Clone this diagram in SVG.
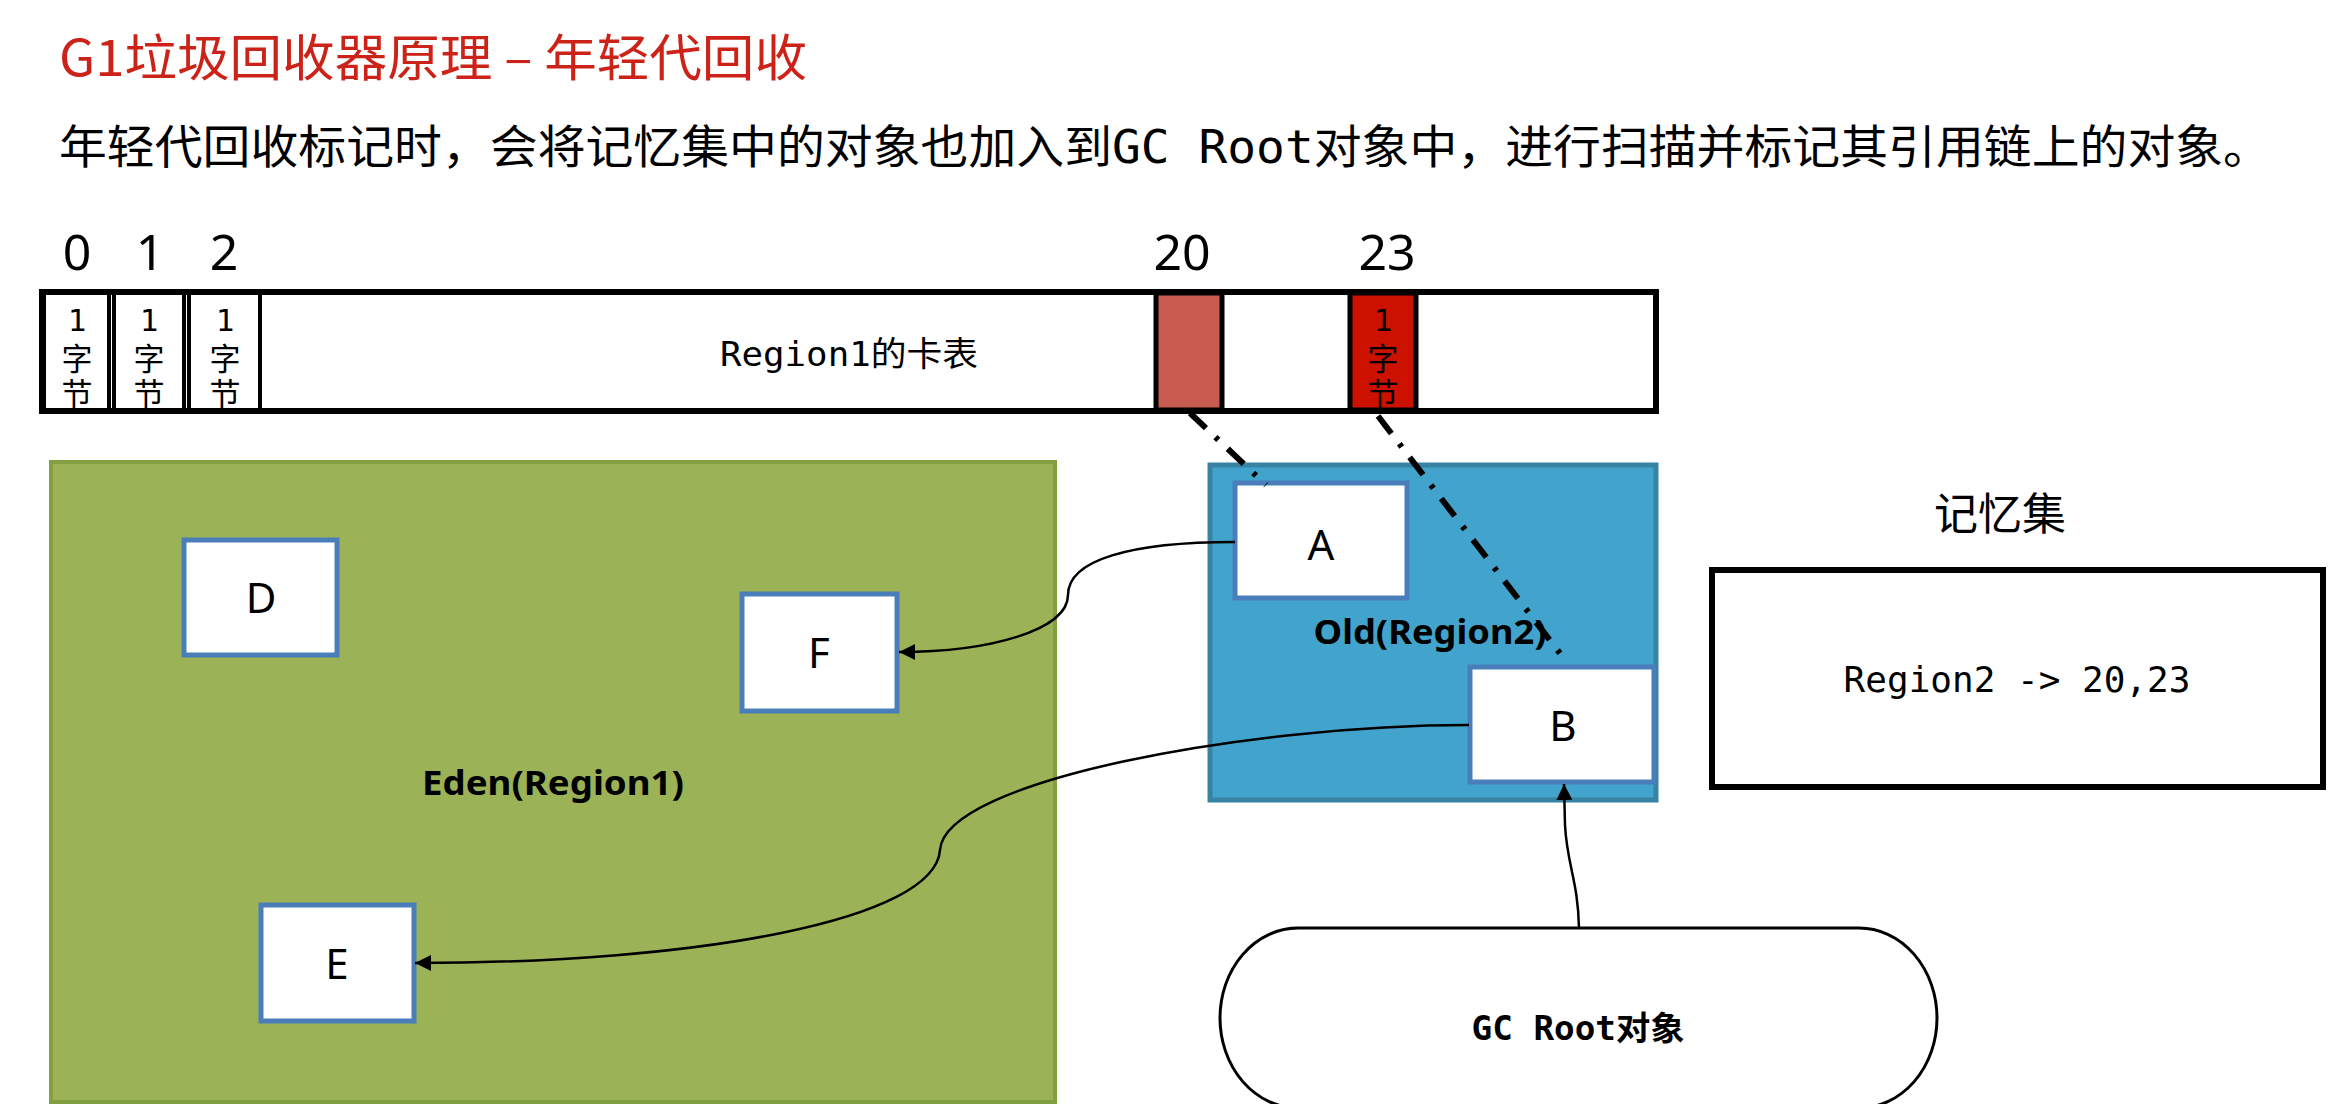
<svg xmlns="http://www.w3.org/2000/svg" width="2331" height="1104" viewBox="0 0 2331 1104">
<style>
.cjk{font-family:"Noto Sans CJK SC",sans-serif}
.mono{font-family:"DejaVu Sans Mono","Noto Sans CJK SC",monospace}
.lab{font-family:"Noto Sans","Noto Sans CJK SC",sans-serif;font-size:42px;text-anchor:middle}
.bold{font-family:"Noto Sans","Noto Sans CJK SC",sans-serif;font-weight:bold;text-anchor:middle}
.obj{fill:#fff;stroke:#4a7ebb;stroke-width:5}
.cell{fill:#fff;stroke:#000;stroke-width:4}
.ct{font-family:"DejaVu Sans Mono","Noto Sans CJK SC",monospace;font-size:31px;text-anchor:middle}
.num{font-family:"Noto Sans",sans-serif;font-size:50px;text-anchor:middle}
.dd{fill:none;stroke:#000;stroke-width:6;stroke-dasharray:22 13 4 13}
.conn{fill:none;stroke:#000;stroke-width:2.5}
</style>
<defs>
<marker id="arr" markerUnits="userSpaceOnUse" markerWidth="18" markerHeight="16" refX="16" refY="8" orient="auto">
<path d="M0,0 L16,8 L0,16 Z" fill="#000"/>
</marker>
</defs>
<rect width="2331" height="1104" fill="#fff"/>

<text x="59" y="76" class="cjk" font-size="50" fill="#cc2218" textLength="748" lengthAdjust="spacingAndGlyphs">G1垃圾回收器原理 – 年轻代回收</text>
<text x="59" y="163" class="mono" font-size="46" fill="#000" textLength="2212" lengthAdjust="spacingAndGlyphs">年轻代回收标记时，会将记忆集中的对象也加入到GC Root对象中，进行扫描并标记其引用链上的对象。</text>

<g id="card-table">
<text x="77" y="270" class="num">0</text>
<text x="150" y="270" class="num">1</text>
<text x="224" y="270" class="num">2</text>
<text x="1182" y="270" class="num">20</text>
<text x="1387" y="270" class="num">23</text>
<rect x="42" y="292" width="1614" height="119" fill="#fff" stroke="#000" stroke-width="6"/>
<rect x="44" y="293" width="65" height="117" class="cell"/>
<rect x="114" y="293" width="70" height="117" class="cell"/>
<rect x="189" y="293" width="71" height="117" class="cell"/>
<text class="ct"><tspan x="77" y="331">1</tspan><tspan x="77" y="370">字</tspan><tspan x="77" y="405">节</tspan></text>
<text class="ct"><tspan x="149" y="331">1</tspan><tspan x="149" y="370">字</tspan><tspan x="149" y="405">节</tspan></text>
<text class="ct"><tspan x="225" y="331">1</tspan><tspan x="225" y="370">字</tspan><tspan x="225" y="405">节</tspan></text>
<text x="849" y="366" class="mono" font-size="34" text-anchor="middle" textLength="258" lengthAdjust="spacingAndGlyphs">Region1的卡表</text>
<rect x="1156" y="293" width="66" height="117" fill="#c85b4f" stroke="#000" stroke-width="5"/>
<rect x="1350" y="293" width="66" height="117" fill="#cc1100" stroke="#000" stroke-width="5"/>
<text class="ct"><tspan x="1383" y="331">1</tspan><tspan x="1383" y="370">字</tspan><tspan x="1383" y="405">节</tspan></text>
</g>

<g id="eden">
<rect x="51" y="462" width="1004" height="640" fill="#9bb257" stroke="#82a040" stroke-width="4"/>
<text x="553" y="795" class="bold" font-size="34" textLength="262" lengthAdjust="spacingAndGlyphs">Eden(Region1)</text>
</g>
<g id="old">
<rect x="1210" y="465" width="446" height="335" fill="#42a4cc" stroke="#3783a3" stroke-width="5"/>
<text x="1430" y="644" class="bold" font-size="34" textLength="233" lengthAdjust="spacingAndGlyphs">Old(Region2)</text>
</g>

<g id="node-D"><rect x="184" y="540" width="153" height="115" class="obj"/><text x="261" y="613" class="lab">D</text></g>
<g id="node-F"><rect x="742" y="594" width="155" height="117" class="obj"/><text x="819" y="668" class="lab">F</text></g>
<g id="node-E"><rect x="261" y="905" width="153" height="116" class="obj"/><text x="337" y="979" class="lab">E</text></g>
<g id="node-A"><rect x="1235" y="483" width="172" height="115" class="obj"/><text x="1321" y="560" class="lab">A</text></g>
<g id="node-B"><rect x="1470" y="667" width="184" height="115" class="obj"/><text x="1563" y="741" class="lab">B</text></g>

<g id="remembered-set">
<text x="2000" y="530" class="cjk" font-size="44" text-anchor="middle">记忆集</text>
<rect x="1712" y="570" width="611" height="217" fill="#fff" stroke="#000" stroke-width="6"/>
<text x="2017" y="692" class="mono" font-size="36" text-anchor="middle">Region2 -&gt; 20,23</text>
</g>

<g id="gc-root">
<rect x="1220" y="928" width="717" height="180" rx="78" ry="90" fill="#fff" stroke="#000" stroke-width="3"/>
<text x="1578" y="1040" class="mono" font-size="33" font-weight="bold" text-anchor="middle" textLength="213" lengthAdjust="spacingAndGlyphs">GC Root对象</text>
</g>

<g id="connectors">
<line x1="1190" y1="413" x2="1266" y2="485" class="dd"/>
<line x1="1378" y1="416" x2="1562" y2="656" class="dd"/>
<path d="M1235,542 C1130,542 1068,560 1068,595 C1068,630 990,652 899,652" class="conn" marker-end="url(#arr)"/>
<path d="M1469,725 C1250,725 945,780 940,850 C935,920 700,963 415,963" class="conn" marker-end="url(#arr)"/>
<path d="M1579,928 C1578,880 1567,865 1565,825 L1564,784" class="conn" marker-end="url(#arr)"/>
</g>
</svg>
